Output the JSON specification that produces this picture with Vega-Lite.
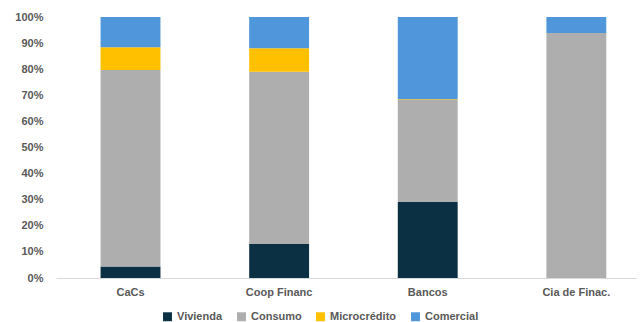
{
  "$schema": "https://vega.github.io/schema/vega-lite/v6.json",
  "autosize": "none",
  "width": 580,
  "height": 261,
  "padding": {"left": 56, "top": 17, "right": 4, "bottom": 44},
  "background": "white",
  "config": {
    "view": {"stroke": null},
    "font": "Liberation Sans"
  },
  "data": {
    "values": [
      {"entidad": "CaCs", "tipo": "Vivienda", "orden": 1, "valor": 4.4},
      {"entidad": "CaCs", "tipo": "Consumo", "orden": 2, "valor": 75.3},
      {"entidad": "CaCs", "tipo": "Microcrédito", "orden": 3, "valor": 8.7},
      {"entidad": "CaCs", "tipo": "Comercial", "orden": 4, "valor": 11.6},
      {"entidad": "Coop Financ", "tipo": "Vivienda", "orden": 1, "valor": 13.0},
      {"entidad": "Coop Financ", "tipo": "Consumo", "orden": 2, "valor": 66.0},
      {"entidad": "Coop Financ", "tipo": "Microcrédito", "orden": 3, "valor": 9.0},
      {"entidad": "Coop Financ", "tipo": "Comercial", "orden": 4, "valor": 12.0},
      {"entidad": "Bancos", "tipo": "Vivienda", "orden": 1, "valor": 29.1},
      {"entidad": "Bancos", "tipo": "Consumo", "orden": 2, "valor": 39.1},
      {"entidad": "Bancos", "tipo": "Microcrédito", "orden": 3, "valor": 0.3},
      {"entidad": "Bancos", "tipo": "Comercial", "orden": 4, "valor": 31.5},
      {"entidad": "Cia de Finac.", "tipo": "Vivienda", "orden": 1, "valor": 0},
      {"entidad": "Cia de Finac.", "tipo": "Consumo", "orden": 2, "valor": 93.9},
      {"entidad": "Cia de Finac.", "tipo": "Microcrédito", "orden": 3, "valor": 0},
      {"entidad": "Cia de Finac.", "tipo": "Comercial", "orden": 4, "valor": 6.1}
    ]
  },
  "mark": {"type": "bar"},
  "encoding": {
    "x": {
      "field": "entidad",
      "type": "nominal",
      "sort": ["CaCs", "Coop Financ", "Bancos", "Cia de Finac."],
      "scale": {"paddingInner": 0.597, "paddingOuter": 0.25, "align": 0.6},
      "axis": {
        "title": null,
        "labelAngle": 0,
        "ticks": false,
        "domainColor": "#d9d9d9",
        "domainWidth": 1,
        "labelColor": "#595959",
        "labelFontWeight": "bold",
        "labelFontSize": 11,
        "labelPadding": 8
      }
    },
    "y": {
      "field": "valor",
      "type": "quantitative",
      "stack": "normalize",
      "scale": {"domain": [0, 1], "nice": false},
      "axis": {
        "title": null,
        "format": ".0%",
        "values": [0, 0.1, 0.2, 0.3, 0.4, 0.5, 0.6, 0.7, 0.8, 0.9, 1],
        "grid": false,
        "domain": false,
        "ticks": false,
        "labelColor": "#595959",
        "labelFontWeight": "bold",
        "labelFontSize": 11,
        "labelPadding": 13
      }
    },
    "color": {
      "field": "tipo",
      "type": "nominal",
      "scale": {
        "domain": ["Vivienda", "Consumo", "Microcrédito", "Comercial"],
        "range": ["#0c3043", "#aeaeae", "#ffc000", "#4f96db"]
      },
      "legend": {
        "title": null,
        "orient": "none",
        "direction": "horizontal",
        "legendX": 106,
        "legendY": 294,
        "symbolType": "square",
        "symbolSize": 80,
        "symbolStrokeWidth": 0,
        "labelColor": "#595959",
        "labelFontWeight": "bold",
        "labelFontSize": 11,
        "columnPadding": 13,
        "labelOffset": 4
      }
    },
    "order": {"field": "orden", "type": "quantitative"}
  }
}
